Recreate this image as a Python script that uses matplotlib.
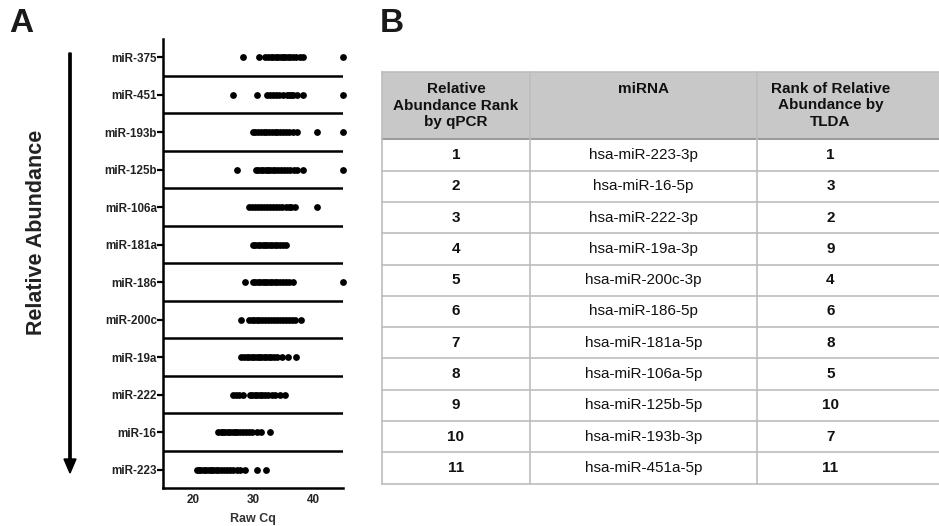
import matplotlib
matplotlib.use("Agg")
import matplotlib.pyplot as plt
from matplotlib.patches import Rectangle, FancyArrow

plt.rcParams['font.family'] = ['Liberation Sans', 'DejaVu Sans']

# panel A: raw Cq per miRNA (top row first)
mirnas = ['miR-375', 'miR-451', 'miR-193b', 'miR-125b', 'miR-106a', 'miR-181a',
          'miR-186', 'miR-200c', 'miR-19a', 'miR-222', 'miR-16', 'miR-223']
cq_375 = [28.3, 31.0, 32.0, 32.5, 33.0, 33.4, 33.8, 34.2, 34.6, 35.0, 35.4, 35.8,
          36.2, 36.7, 37.2, 37.8, 38.4, 45.0]
cq_451 = [26.7, 30.6, 32.4, 32.9, 33.4, 33.9, 34.4, 35.0, 35.6, 36.0, 36.3, 36.6,
          37.3, 38.4, 45.0]
cq_193b = [30.0, 30.4, 30.9, 31.3, 31.8, 32.2, 32.7, 33.1, 33.6, 34.0, 34.5, 35.0,
           35.5, 36.0, 36.6, 37.3, 40.6, 45.0]
cq_125b = [27.4, 30.5, 30.9, 31.3, 31.7, 32.1, 32.5, 32.9, 33.3, 33.7, 34.1, 34.6,
           35.1, 35.6, 36.2, 36.8, 37.3, 38.4, 45.0]
cq_106a = [29.4, 29.9, 30.4, 30.9, 31.4, 31.9, 32.4, 32.9, 33.4, 33.9, 34.4, 34.9,
           35.5, 36.0, 36.4, 37.0, 40.6]
cq_181a = [30.0, 30.4, 30.8, 31.2, 31.6, 32.0, 32.4, 32.8, 33.2, 33.6, 34.0, 34.5,
           35.0, 35.5]
cq_186 = [28.7, 30.0, 30.4, 30.8, 31.2, 31.6, 32.0, 32.4, 32.8, 33.2, 33.6, 34.0,
          34.5, 35.0, 35.5, 36.0, 36.7, 45.0]
cq_200c = [28.0, 29.4, 29.8, 30.2, 30.6, 31.0, 31.5, 32.0, 32.5, 33.0, 33.5, 34.0,
           34.5, 35.0, 35.5, 36.0, 36.5, 37.0, 38.0]
cq_19a = [28.0, 28.5, 29.0, 29.4, 29.8, 30.2, 30.6, 31.0, 31.4, 31.8, 32.2, 32.6,
          33.0, 33.5, 34.0, 34.8, 35.9, 37.1]
cq_222 = [26.6, 27.1, 27.6, 28.4, 29.5, 29.9, 30.3, 30.7, 31.1, 31.5, 32.0, 32.5,
          33.1, 33.7, 34.5, 35.3]
cq_16 = [24.2, 24.6, 25.0, 25.4, 25.8, 26.2, 26.6, 27.0, 27.4, 27.8, 28.3, 28.8,
         29.3, 29.9, 30.6, 31.4, 32.8]
cq_223 = [20.6, 21.0, 21.4, 21.8, 22.2, 22.6, 23.0, 23.4, 23.8, 24.2, 24.7, 25.2,
          25.7, 26.2, 26.7, 27.3, 27.8, 28.7, 30.6, 32.2]
cq_values = [cq_375, cq_451, cq_193b, cq_125b, cq_106a, cq_181a,
             cq_186, cq_200c, cq_19a, cq_222, cq_16, cq_223]
x_ticks = [20, 30, 40]

# panel B: table
table_header = ['Relative\nAbundance Rank\nby qPCR', 'miRNA',
                'Rank of Relative\nAbundance by\nTLDA']
rank_qpcr = ['1', '2', '3', '4', '5', '6', '7', '8', '9', '10', '11']
mirna_names = ['hsa-miR-223-3p', 'hsa-miR-16-5p', 'hsa-miR-222-3p', 'hsa-miR-19a-3p',
               'hsa-miR-200c-3p', 'hsa-miR-186-5p', 'hsa-miR-181a-5p',
               'hsa-miR-106a-5p', 'hsa-miR-125b-5p', 'hsa-miR-193b-3p',
               'hsa-miR-451a-5p']
rank_tlda = ['1', '3', '2', '9', '4', '6', '8', '5', '10', '7', '11']

W, H = 939, 526
fig = plt.figure(figsize=(W / 100, H / 100), dpi=100)

# overlay in pixel coords for table, arrow and panel letters
ov = fig.add_axes([0, 0, 1, 1])
ov.set_xlim(0, W)
ov.set_ylim(H, 0)
ov.axis('off')

# ---- panel A ----
ax = fig.add_axes([163 / W, 1 - 488.3 / H, 180 / W, (488.3 - 39.4) / H])
for i, vals in enumerate(cq_values):
    ax.scatter(vals, [i] * len(vals), s=24, color='black', linewidths=0,
               zorder=3, clip_on=False)
for i in range(len(mirnas) - 1):
    ax.plot([15, 45], [i + 0.5, i + 0.5], color='black', lw=1.8,
            solid_capstyle='butt', zorder=2)
ax.set_xlim(15, 45)
ax.set_ylim(len(mirnas) - 0.5, -0.47)
ax.set_yticks(range(len(mirnas)))
ax.set_yticklabels(mirnas, fontsize=8.4, fontweight='bold', color='#222222')
ax.set_xticks(x_ticks)
ax.set_xticklabels([str(t) for t in x_ticks], fontsize=8.4, fontweight='bold',
                   color='#222222')
ax.tick_params(axis='y', length=4, width=1.6, pad=0.5)
ax.tick_params(axis='x', length=0, pad=4)
for side in ['top', 'right']:
    ax.spines[side].set_visible(False)
for side in ['left', 'bottom']:
    ax.spines[side].set_linewidth(1.8)
ax.set_xlabel('Raw Cq', fontsize=9, fontweight='bold', color='#333333',
              labelpad=5)

ov.text(21, 23, 'A', fontsize=24, fontweight='bold', ha='center', va='center',
        color='#1a1a1a')
ov.text(392, 23, 'B', fontsize=24, fontweight='bold', ha='center', va='center',
        color='#1a1a1a')
ov.text(37, 232, 'Relative Abundance', fontsize=15.5, fontweight='bold',
        rotation=90, ha='center', va='center', color='#222222')
ov.add_patch(FancyArrow(70, 53, 0, 420, width=2.3, head_width=12,
                        head_length=14, length_includes_head=True,
                        color='black'))

# ---- panel B ----
col_edges = [381.7, 530, 757.3, 960]
col_centers = [455.9, 643.6, 830.5]
top, head_bot, row_h = 72.3, 139.3, 31.3
n_rows = len(rank_qpcr)
bottom = head_bot + n_rows * row_h
grid_c = '#bdbdbd'

ov.add_patch(Rectangle((col_edges[0], top), col_edges[-1] - col_edges[0],
                       head_bot - top, facecolor='#c8c8c8', edgecolor='none'))
ov.plot([col_edges[0], col_edges[-1]], [top, top], color=grid_c, lw=1.2)
ov.plot([col_edges[0], col_edges[-1]], [head_bot, head_bot], color='#999999', lw=1.4)
for k in range(1, n_rows + 1):
    y = head_bot + k * row_h
    ov.plot([col_edges[0], col_edges[-1]], [y, y], color=grid_c, lw=1.2)
for xe in col_edges[:-1]:
    ov.plot([xe, xe], [top, bottom], color=grid_c, lw=1.2)

for j, lab in enumerate(table_header):
    ov.text(col_centers[j], top + 10, lab, fontsize=11, fontweight='bold',
            ha='center', va='top', linespacing=1.2, color='#111111')
for k in range(n_rows):
    yc = head_bot + (k + 0.5) * row_h
    ov.text(col_centers[0], yc, rank_qpcr[k], fontsize=11, fontweight='bold',
            ha='center', va='center', color='#111111')
    ov.text(col_centers[1], yc, mirna_names[k], fontsize=11,
            ha='center', va='center', color='#111111')
    ov.text(col_centers[2], yc, rank_tlda[k], fontsize=11, fontweight='bold',
            ha='center', va='center', color='#111111')

fig.savefig('out.png', dpi=100)
